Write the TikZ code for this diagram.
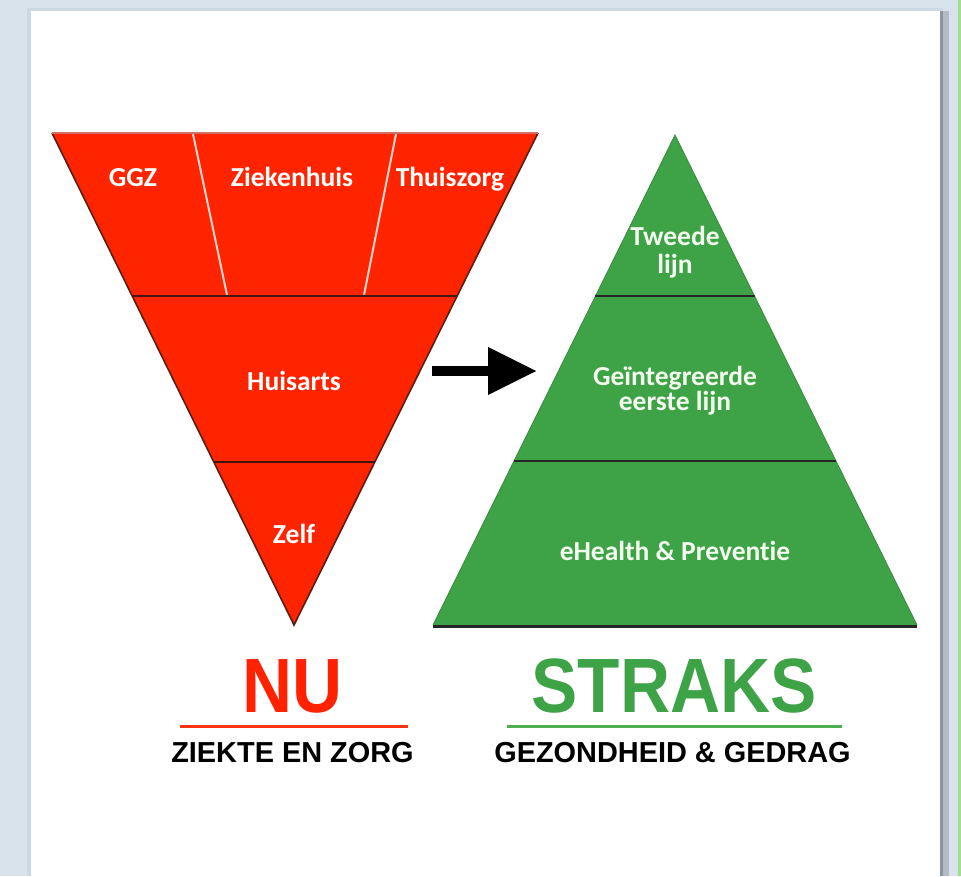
\documentclass[tikz,border=0pt]{standalone}
\usepackage{fontspec}
\usetikzlibrary{arrows.meta,calc}
\newfontfamily\labelfont[Ligatures=NoCommon]{Carlito}
\newfontfamily\headfont{Liberation Sans}
\definecolor{bgblue}{HTML}{D8E3EC}
\definecolor{cardedge}{HTML}{CCD8E2}
\definecolor{shadowdark}{HTML}{8C949C}
\definecolor{shadowlight}{HTML}{B3BCC5}
\definecolor{greenstrip}{HTML}{9FE08F}
\definecolor{pyrred}{HTML}{FF2400}
\definecolor{redline}{HTML}{5A1E14}
\definecolor{redtop}{HTML}{D2705F}
\definecolor{divider}{HTML}{F2D6CF}
\definecolor{pyrgreen}{HTML}{3EA346}
\definecolor{greenedge}{HTML}{3A8A3E}
\definecolor{sepline}{HTML}{262626}
\definecolor{titlered}{HTML}{FF2200}
\definecolor{ulred}{HTML}{FF3414}
\definecolor{ulgreen}{HTML}{4DAF50}
\definecolor{greentext}{HTML}{F4FBEF}
\tikzset{
  inlabel/.style={text=white, font=\labelfont\bfseries\fontsize{27.5}{29}\selectfont, inner sep=0pt, anchor=base},
  glabel/.style={inlabel, text=greentext},
  bigtitle/.style={font=\headfont\bfseries\fontsize{77}{80}\selectfont, inner sep=0pt, anchor=base},
  subtitle/.style={font=\headfont\bfseries\fontsize{28.9}{30}\selectfont, inner sep=0pt, anchor=base, text=black},
  seprule/.style={draw=sepline, line width=2.5pt},
  arrowstyle/.style={line width=10pt, -{Triangle[length=49pt,width=45pt]}}
}
\begin{document}
\begin{tikzpicture}[x=1pt,y=-1pt]
\useasboundingbox (0,0) rectangle (961,876);
% background and card
\fill[bgblue] (0,0) rectangle (961,876);
\fill[cardedge] (27,8) rectangle (943,876);
\fill[white] (31,11) rectangle (940,876);
\fill[shadowdark] (940,11) rectangle (943,876);
\fill[shadowlight] (943,11) rectangle (949,876);
\fill[greenstrip] (957.5,0) rectangle (961,876);

% red inverted pyramid
\coordinate (rA) at (52,133);
\coordinate (rB) at (538,133);
\coordinate (rC) at (294,625);
\fill[pyrred] (rA) -- (rB) -- (rC) -- cycle;
\draw[redline, line width=1.6pt, line join=miter] (rA) -- (rC) -- (rB);
\draw[redtop, line width=2pt] (rA) -- (rB);
\coordinate (r1L) at ($(rA)!0.3313!(rC)$);
\coordinate (r1R) at ($(rB)!0.3313!(rC)$);
\coordinate (r2L) at ($(rA)!0.6687!(rC)$);
\coordinate (r2R) at ($(rB)!0.6687!(rC)$);
\draw[divider, line width=2pt] (193,134) -- (227,295);
\draw[divider, line width=2pt] (396,134) -- (364,295);
\draw[seprule, draw=redline!80!black] (r1L) -- (r1R);
\draw[seprule, draw=redline!70!black] (r2L) -- (r2R);

\node[inlabel] (ggz) at (133,186) {GGZ};
\node[inlabel] (zkh) at (292,186) {Ziekenhuis};
\node[inlabel] (thz) at (450,186) {Thuiszorg};
\node[inlabel] (hsa) at (294,390) {Huisarts};
\node[inlabel] (zlf) at (294,543) {Zelf};

% green pyramid
\coordinate (gA) at (675,135);
\coordinate (gL) at (433,625);
\coordinate (gR) at (917,625);
\fill[pyrgreen] (gA) -- (gR) -- (gL) -- cycle;
\draw[greenedge, line width=0.8pt] (gL) -- (gA) -- (gR);
\coordinate (g1L) at ($(gA)!0.3286!(gL)$);
\coordinate (g1R) at ($(gA)!0.3286!(gR)$);
\coordinate (g2L) at ($(gA)!0.6653!(gL)$);
\coordinate (g2R) at ($(gA)!0.6653!(gR)$);
\draw[seprule] (g1L) -- (g1R);
\draw[seprule] (g2L) -- (g2R);
\draw[sepline, line width=3pt] ($(gL)+(0,1.5)$) -- ($(gR)+(0,1.5)$);

\node[glabel] (tw1) at (675,245) {Tweede};
\node[glabel] (tw2) at (675,273) {lijn};
\node[glabel] (ge1) at (675,385) {Geïntegreerde};
\node[glabel] (ge2) at (675,410) {eerste lijn};
\node[glabel] (ehp) at (675,560) {eHealth \& Preventie};

% arrow
\coordinate (arS) at (432,371);
\coordinate (arE) at (537,371);
\draw[arrowstyle] (arS) -- (arE);

% titles
\node[bigtitle, text=titlered] (nu) at (293,712) {\scalebox{0.9}[1]{NU}};
\node[bigtitle, text=pyrgreen] (straks) at (674,712) {\scalebox{0.9}[1]{STRAKS}};
\coordinate (ur1) at (180,726);
\coordinate (ur2) at (408,726);
\coordinate (ug1) at (507,726);
\coordinate (ug2) at (842,726);
\draw[ulred, line width=3pt] (ur1) -- (ur2);
\draw[ulgreen, line width=3pt] (ug1) -- (ug2);
\node[subtitle] (sub1) at (292.5,762) {ZIEKTE EN ZORG};
\node[subtitle] (sub2) at (672.5,762) {GEZONDHEID \& GEDRAG};
\end{tikzpicture}
\end{document}
